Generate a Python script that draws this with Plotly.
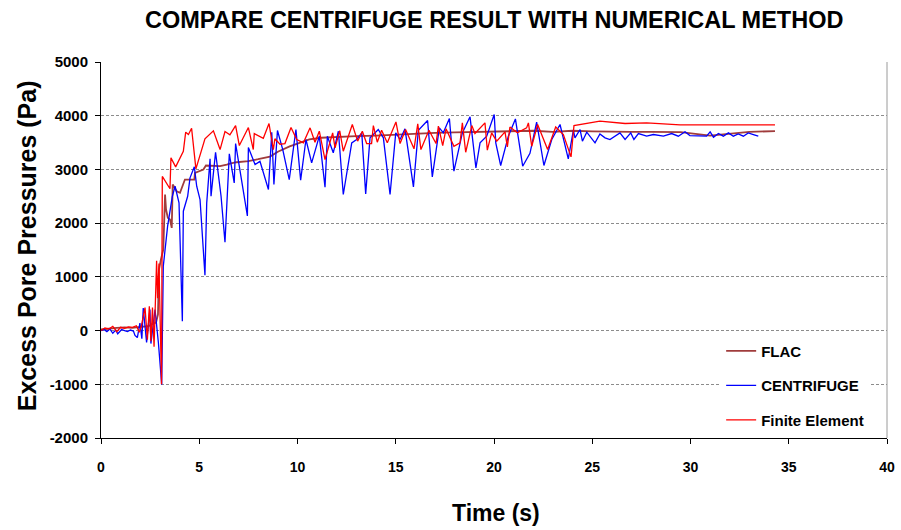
import plotly.graph_objects as go

# ---------------- data ----------------
flac_t = [0, 0.4, 0.8, 1.2, 1.6, 2.0, 2.4, 2.6, 2.8, 2.9, 2.95, 3.05, 3.17, 3.26, 3.31, 3.4, 3.51,
          3.6, 3.65, 3.85, 4.02, 4.27, 4.75, 4.78, 5.21, 5.34, 6.06, 6.4, 6.56, 6.9, 7.5, 8.0,
          8.6, 9.0, 9.6, 10.0, 10.6, 11.2, 12.2, 13, 14, 15, 16, 17, 18, 19, 20, 21, 22, 23,
          24, 25, 26, 27, 28, 29.5, 31, 32, 33, 34.3]
flac_p = [20, 40, 50, 60, 50, 70, 80, 120, 150, 300, 1136, 1322, 1508, 2533, 2253, 2100, 2067,
          1912, 2719, 2594, 2564, 2812, 2812, 2936, 2998, 3073, 3060, 3091, 3110, 3134, 3153, 3190,
          3240, 3330, 3430, 3480, 3560, 3590, 3610, 3620, 3630, 3650, 3660, 3680, 3690, 3700,
          3700, 3710, 3720, 3700, 3720, 3710, 3700, 3700, 3700, 3693, 3631, 3660, 3700, 3712]

cent_t = [0, 0.15, 0.3, 0.45, 0.6, 0.75, 0.85, 1.05, 1.2, 1.35, 1.5, 1.65, 1.73, 1.85, 1.98,
          2.08, 2.15, 2.32, 2.49, 2.54, 2.75, 2.92, 3.09, 3.17, 3.39, 3.63, 3.77, 3.97, 4.14,
          4.19, 4.41, 4.53, 4.75, 4.87, 5.04, 5.29, 5.38, 5.55, 5.6, 5.83, 6.11, 6.31, 6.53,
          6.78, 6.85, 7.12, 7.45, 7.5, 7.84, 8.09, 8.52, 8.69, 8.8, 8.98, 9.25, 9.58, 9.92,
          10.16, 10.43, 10.72, 11.11, 11.4, 11.52, 11.82, 12.08, 12.33, 12.76, 13.01, 13.27,
          13.47, 13.69, 14.11, 14.37, 14.71, 15.0, 15.22, 15.47, 15.9, 16.15, 16.62, 16.86,
          17.22, 17.42, 17.73, 17.96, 18.39, 18.78, 19.08, 19.29, 19.63, 20.01, 20.09, 20.34,
          20.73, 21.09, 21.46, 21.83, 22.17, 22.54, 22.94, 23.36, 23.78, 24.04, 24.12, 24.38,
          24.5, 24.72, 25.14, 25.39, 25.65, 25.9, 26.41, 26.67, 26.96, 27.12, 27.35, 27.77,
          28.11, 28.62, 29.04, 29.38, 29.72, 29.97, 30.82, 31.0, 31.17, 31.42, 31.67, 31.93,
          32.18, 32.43, 32.69, 32.94, 33.2, 33.45]
cent_p = [0, 20, -20, 30, -50, 10, -60, 20, 0, -20, 10, -10, -90, -130, 140,
          -150, 420, -223, 390, -242, 390, -223, -1006, 1198, 1943, 2500, 2687, 2380, 173,
          2222, 2500, 2843, 3048, 2687, 2440, 1030, 2378, 3197, 2500, 3320, 2500, 1644, 3290,
          2750, 3482, 2874, 2135, 3410, 3091, 3150, 2626, 3693, 2720, 3724, 3370, 2810, 3743,
          2800, 3557, 3123, 3619, 2670, 3619, 3309, 3712, 2533, 3495, 3557, 3681,
          2545, 3588, 3743, 3588, 2533, 3681, 3557, 3756, 2676, 3730, 3910, 2862,
          3774, 3681, 3948, 2967, 3681, 3979, 3029, 3495, 3619, 4022, 3495, 3073,
          3619, 3941, 3060, 3300, 3880, 3073, 3557, 3836, 3197, 3730, 3588, 3743,
          3526, 3693, 3495, 3662, 3588, 3557, 3681, 3557, 3681, 3557, 3668, 3619,
          3650, 3619, 3668, 3619, 3700, 3631, 3619, 3700, 3600, 3668, 3619, 3681,
          3619, 3662, 3619, 3681, 3650, 3619]

fe_t = [0, 0.2, 0.4, 0.6, 0.8, 1.0, 1.2, 1.4, 1.6, 1.8, 1.95, 2.05, 2.24, 2.36, 2.46, 2.54,
        2.62, 2.7, 2.83, 2.88, 2.95, 3.08, 3.12, 3.51, 3.56, 3.8, 4.19, 4.31, 4.45, 4.61, 4.83,
        5.29, 5.72, 6.06, 6.31, 6.56, 6.85, 7.04, 7.5, 7.75, 7.8, 8.26, 8.55, 8.77, 8.85, 9.11,
        9.36, 9.67, 9.96, 10.3, 10.64, 10.89, 11.11, 11.4, 11.79, 11.91, 12.15, 12.33, 12.79,
        13.06, 13.3, 13.52, 13.77, 13.86, 14.06, 14.28, 14.57, 15.01, 15.22, 15.5, 15.93,
        16.12, 16.28, 16.69, 17.05, 17.17, 17.39, 17.56, 17.96, 18.27, 18.39, 18.56, 18.87,
        19.03, 19.54, 19.66, 19.88, 20.14, 20.56, 20.68, 20.81, 21.19, 21.66, 21.75, 21.92,
        22.22, 22.73, 23.14, 23.53, 23.92, 24.07, 25.39, 26.67, 27.77, 29.47, 34.3]
fe_p = [0, 50, 30, 80, -20, 60, 40, 70, 60, 90, -30, 80, 428, -168, 453, -200,
        430, -300, 1300, 600, 1250, -1000, 2870, 2640, 3215, 3048, 3339, 3693, 3650, 3767, 3011,
        3570, 3718, 3370, 3706, 3644, 3817, 3445, 3780, 3370, 3668, 3581, 3855, 3370, 3570, 3469,
        3482, 3780, 3557, 3495, 3774, 3507, 3712, 3184, 3681, 3400, 3720, 3339, 3836,
        3526, 3712, 3482, 3482, 3817, 3507, 3730, 3495, 3885, 3482, 3743, 3383,
        3848, 3370, 3730, 3482, 3805, 3445, 3756, 3432, 3495, 3867, 3320, 3817,
        3668, 3867, 3358, 3681, 3526, 3699, 3420, 3790, 3681, 3774, 3867, 3432,
        3836, 3370, 3790, 3650, 3234, 3817, 3898, 3855, 3867, 3830, 3830]

x_ticks = [0, 5, 10, 15, 20, 25, 30, 35, 40]
y_ticks = [-2000, -1000, 0, 1000, 2000, 3000, 4000, 5000]

# ---------------- figure ----------------
fig = go.Figure()
fig.add_trace(go.Scatter(x=flac_t, y=flac_p, mode="lines", name="FLAC",
                         legendgroup="a", line=dict(color="#A03C3C", width=1.8)))
fig.add_trace(go.Scatter(x=cent_t, y=cent_p, mode="lines", name="CENTRIFUGE",
                         legendgroup="b", line=dict(color="#0000FF", width=1.3)))
fig.add_trace(go.Scatter(x=fe_t, y=fe_p, mode="lines", name="Finite Element",
                         legendgroup="c", line=dict(color="#FF0000", width=1.3)))

FONT = "Liberation Sans, Arial, sans-serif"
tick_font = dict(family=FONT, size=15, color="black", weight="bold")
xtick_font = dict(family=FONT, size=14, color="black", weight="bold")

fig.update_layout(
    width=901, height=530,
    margin=dict(l=101, r=14, t=62, b=92, autoexpand=False),
    paper_bgcolor="white", plot_bgcolor="white",
    showlegend=True,
    legend=dict(x=0.789, y=0.275, xanchor="left", yanchor="top",
                font=dict(family=FONT, size=15, color="black", weight="bold"),
                bgcolor="rgba(255,255,255,1)", borderwidth=0,
                tracegroupgap=12, traceorder="grouped"),
    xaxis=dict(range=[0, 40], tickvals=x_ticks, ticktext=[str(v) for v in x_ticks],
               showgrid=False, zeroline=False, showline=True, linecolor="black",
               linewidth=1, ticks="outside", ticklen=5, tickcolor="black",
               tickfont=xtick_font, ticklabelstandoff=11, automargin=False),
    yaxis=dict(range=[-2000, 5000], tickvals=y_ticks, ticktext=[str(v) for v in y_ticks],
               showgrid=True, gridcolor="#8c8c8c", griddash="3px,2px", gridwidth=1,
               zeroline=False, showline=True, linecolor="black", linewidth=1,
               ticks="outside", ticklen=5, tickcolor="black", tickfont=tick_font,
               ticklabelstandoff=4, automargin=False),
    annotations=[
        dict(text="COMPARE CENTRIFUGE RESULT WITH NUMERICAL METHOD", xref="paper", yref="paper",
             x=0.5, y=1, yshift=42, xanchor="center", yanchor="middle", showarrow=False,
             font=dict(family=FONT, size=23.5, color="black", weight="bold")),
        dict(text="Time (s)", xref="paper", yref="paper", x=0.503, y=0, yshift=-75,
             xanchor="center", yanchor="middle", showarrow=False,
             font=dict(family=FONT, size=23, color="black", weight="bold")),
        dict(text="Excess Pore Pressures (Pa)", xref="paper", yref="paper", x=0, y=0.51,
             xshift=-74, xanchor="center", yanchor="middle", showarrow=False, textangle=-90,
             font=dict(family=FONT, size=25, color="black", weight="bold")),
    ],
    shapes=[dict(type="line", xref="paper", yref="paper", x0=1, x1=1, y0=0, y1=1,
                 line=dict(color="#9a9a9a", width=1))],
)

fig.write_html("out.html")
